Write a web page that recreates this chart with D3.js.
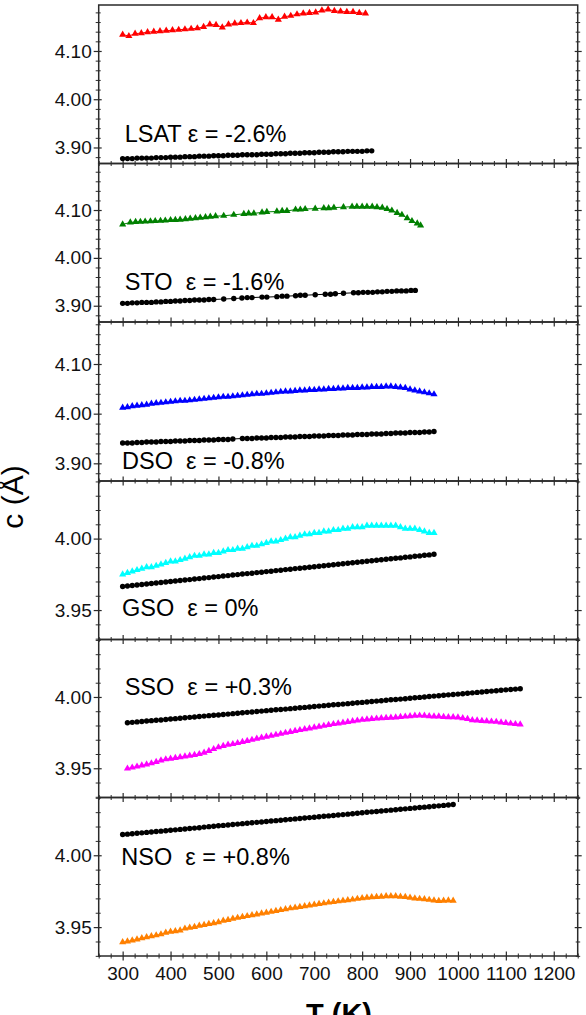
<!DOCTYPE html>
<html><head><meta charset="utf-8">
<script src="https://cdn.jsdelivr.net/npm/d3@7"></script>
<style>
html,body{margin:0;padding:0;background:#fff;}
svg{display:block;font-family:"Liberation Sans",Arial,sans-serif;}
</style></head>
<body>
<svg id="chart" width="586" height="1015"></svg>
<script>
// ---------- DATA ----------
const xTickValues = [300,400,500,600,700,800,900,1000,1100,1200];
const xTickLabels = ["300","400","500","600","700","800","900","1000","1100","1200"];
const yTicksWide = [3.90,4.00,4.10];
const yTickLabelsWide = ["3.90","4.00","4.10"];
const yTicksNarrow = [3.95,4.00];
const yTickLabelsNarrow = ["3.95","4.00"];
const panelLabels = ["LSAT \u03b5 = -2.6%","STO  \u03b5 = -1.6%","DSO  \u03b5 = -0.8%","GSO  \u03b5 = 0%","SSO  \u03b5 = +0.3%","NSO  \u03b5 = +0.8%"];
const triColors = ["#ff0000","#008000","#0000ff","#00ffff","#ff00ff","#ff8000"];

// LSAT
const T_LSAT_tri = [300,313,326,339,352,365,378,391,404,417,430,443,456,469,482,495,508,521,534,547,560,573,586,599,612,625,638,651,664,677,690,703,716,729,742,755,768,781,794,807];
const c_LSAT_tri = [4.134,4.131,4.136,4.137,4.139,4.140,4.141,4.142,4.143,4.144,4.145,4.146,4.147,4.150,4.155,4.154,4.149,4.155,4.157,4.158,4.159,4.158,4.168,4.170,4.170,4.165,4.171,4.173,4.176,4.178,4.179,4.180,4.184,4.186,4.183,4.182,4.181,4.181,4.179,4.178];
const T_LSAT_dot = [300,310,320,330,340,350,360,370,380,390,400,410,420,430,440,450,460,470,480,490,500,510,520,530,540,550,560,570,580,590,600,610,620,630,640,650,660,670,680,690,700,710,720,730,740,750,760,770,780,790,800,810,820];
const c_LSAT_dot = [3.877,3.877,3.877,3.878,3.878,3.878,3.878,3.879,3.879,3.879,3.880,3.880,3.880,3.881,3.881,3.881,3.882,3.882,3.882,3.883,3.883,3.883,3.884,3.884,3.884,3.885,3.885,3.885,3.885,3.886,3.886,3.886,3.887,3.887,3.887,3.888,3.888,3.888,3.889,3.889,3.889,3.890,3.890,3.890,3.891,3.891,3.891,3.892,3.892,3.892,3.892,3.893,3.893];

// STO
const T_STO_tri = [300,316,327,337,347,358,368,379,389,400,410,420,431,441,452,462,473,483,494,511,532,553,563,574,591,601,622,633,643,661,671,681,702,720,730,741,761,779,789,800,810,821,831,842,852,862,873,883,894,904,915,922];
const c_STO_tri = [4.070,4.074,4.075,4.0755,4.076,4.0765,4.077,4.0775,4.078,4.079,4.0795,4.080,4.081,4.082,4.083,4.084,4.085,4.086,4.087,4.088,4.090,4.092,4.093,4.093,4.095,4.096,4.097,4.098,4.098,4.101,4.101,4.102,4.103,4.104,4.104,4.105,4.106,4.107,4.107,4.107,4.107,4.107,4.106,4.105,4.102,4.099,4.094,4.090,4.083,4.077,4.072,4.068];
const T_STO_dot = [300,310,320,330,340,350,360,370,380,390,400,410,420,430,440,450,460,470,480,490,511,532,549,560,570,591,601,622,633,643,661,671,681,702,723,734,744,761,782,792,802,812,822,832,842,852,862,872,882,892,902,911];
const c_STO_dot = [3.905,3.905,3.906,3.906,3.907,3.907,3.907,3.908,3.908,3.909,3.909,3.910,3.910,3.911,3.911,3.912,3.912,3.912,3.913,3.913,3.914,3.915,3.916,3.917,3.917,3.918,3.918,3.919,3.920,3.920,3.921,3.922,3.922,3.923,3.924,3.924,3.925,3.926,3.927,3.927,3.928,3.928,3.928,3.929,3.929,3.930,3.930,3.931,3.931,3.931,3.932,3.932];

// DSO
const T_DSO_tri = [300,310,320,330,340,350,360,370,380,390,400,410,420,430,440,450,460,470,480,490,500,510,520,530,540,550,560,570,580,590,600,610,620,630,640,650,660,670,680,690,700,710,720,730,740,750,760,770,780,790,800,810,820,830,840,850,860,870,880,890,900,910,920,930,940,950];
const c_DSO_tri = [4.012,4.013,4.015,4.016,4.017,4.018,4.020,4.021,4.022,4.023,4.024,4.025,4.026,4.026,4.027,4.028,4.029,4.030,4.031,4.032,4.033,4.034,4.034,4.035,4.036,4.037,4.038,4.039,4.040,4.040,4.041,4.042,4.043,4.044,4.045,4.045,4.046,4.047,4.047,4.048,4.048,4.049,4.049,4.050,4.050,4.051,4.051,4.052,4.052,4.052,4.053,4.053,4.054,4.054,4.054,4.055,4.055,4.054,4.053,4.052,4.049,4.047,4.045,4.043,4.041,4.039];
const T_DSO_dot = [300,310,320,330,340,350,360,370,380,390,400,410,420,430,440,450,460,470,480,490,500,510,520,530,550,560,570,580,590,600,610,620,630,640,650,660,670,680,690,700,710,720,730,740,750,760,770,780,790,800,810,820,830,840,850,860,870,880,890,900,910,920,930,940,950];
const c_DSO_dot = [3.941,3.941,3.941,3.942,3.942,3.943,3.943,3.943,3.944,3.944,3.944,3.945,3.945,3.945,3.946,3.946,3.946,3.947,3.947,3.947,3.948,3.948,3.948,3.949,3.950,3.950,3.950,3.951,3.951,3.951,3.952,3.952,3.952,3.953,3.953,3.953,3.954,3.954,3.954,3.955,3.955,3.955,3.956,3.956,3.956,3.957,3.957,3.957,3.958,3.958,3.958,3.959,3.959,3.959,3.960,3.960,3.961,3.961,3.961,3.962,3.962,3.962,3.963,3.963,3.964];

// GSO
const T_GSO = [300,310,320,330,340,350,360,370,380,390,400,410,420,430,440,450,460,470,480,490,500,510,520,530,540,550,560,570,580,590,600,610,620,630,640,650,660,670,680,690,700,710,720,730,740,750,760,770,780,790,800,810,820,830,840,850,860,870,880,890,900,910,920,930,940,950];
const c_GSO_tri = [3.975,3.976,3.977,3.978,3.979,3.980,3.980,3.981,3.982,3.983,3.984,3.984,3.985,3.986,3.987,3.988,3.988,3.989,3.989,3.990,3.990,3.991,3.992,3.992,3.993,3.993,3.994,3.995,3.995,3.996,3.997,3.998,3.998,3.999,4.000,4.001,4.001,4.002,4.003,4.003,4.004,4.004,4.005,4.005,4.006,4.006,4.007,4.007,4.008,4.008,4.008,4.009,4.009,4.009,4.009,4.009,4.009,4.009,4.008,4.007,4.007,4.007,4.006,4.005,4.004,4.004];
const c_GSO_dot = [3.9665,3.9668,3.9672,3.9675,3.9679,3.9682,3.9686,3.9689,3.9693,3.9696,3.9700,3.9703,3.9707,3.9710,3.9713,3.9717,3.9720,3.9724,3.9727,3.9731,3.9734,3.9738,3.9741,3.9745,3.9748,3.9752,3.9755,3.9758,3.9762,3.9765,3.9769,3.9772,3.9776,3.9779,3.9783,3.9786,3.9790,3.9793,3.9796,3.9800,3.9803,3.9807,3.9810,3.9814,3.9817,3.9821,3.9824,3.9827,3.9831,3.9834,3.9838,3.9841,3.9845,3.9848,3.9852,3.9855,3.9859,3.9862,3.9865,3.9869,3.9872,3.9876,3.9879,3.9883,3.9886,3.9890];

// SSO
const T_SSO = [310,320,330,340,350,360,370,380,390,400,410,420,430,440,450,460,470,480,490,500,510,520,530,540,550,560,570,580,590,600,610,620,630,640,650,660,670,680,690,700,710,720,730,740,750,760,770,780,790,800,810,820,830,840,850,860,870,880,890,900,910,920,930,940,950,960,970,980,990,1000,1010,1020,1030,1040,1050,1060,1070,1080,1090,1100,1110,1120,1130];
const c_SSO_tri = [3.9498,3.9505,3.9512,3.9520,3.9527,3.9535,3.9545,3.9555,3.9563,3.9568,3.9573,3.9578,3.9583,3.9588,3.9594,3.9600,3.9610,3.9622,3.9635,3.9647,3.9657,3.9665,3.9670,3.9677,3.9685,3.9692,3.9700,3.9708,3.9715,3.9722,3.9728,3.9735,3.9742,3.9749,3.9755,3.9762,3.9768,3.9774,3.9780,3.9786,3.9792,3.9798,3.9804,3.9810,3.9815,3.9820,3.9825,3.9830,3.9835,3.9840,3.9843,3.9846,3.9849,3.9851,3.9853,3.9855,3.9857,3.9860,3.9863,3.9866,3.9869,3.9870,3.9869,3.9866,3.9864,3.9864,3.9860,3.9858,3.9858,3.9857,3.9852,3.9846,3.9838,3.9836,3.9832,3.9830,3.9828,3.9826,3.9822,3.9818,3.9814,3.9810,3.9807];
const c_SSO_dot = [3.9819,3.9822,3.9825,3.9828,3.9831,3.9834,3.9837,3.9839,3.9842,3.9845,3.9848,3.9851,3.9854,3.9857,3.9860,3.9863,3.9866,3.9869,3.9872,3.9874,3.9877,3.9880,3.9883,3.9886,3.9889,3.9892,3.9895,3.9898,3.9901,3.9904,3.9907,3.9910,3.9912,3.9915,3.9918,3.9921,3.9924,3.9927,3.9930,3.9933,3.9936,3.9939,3.9942,3.9945,3.9947,3.9950,3.9953,3.9956,3.9959,3.9962,3.9965,3.9968,3.9971,3.9974,3.9977,3.9980,3.9982,3.9985,3.9988,3.9991,3.9994,3.9997,4.0000,4.0003,4.0006,4.0009,4.0012,4.0015,4.0017,4.0020,4.0023,4.0026,4.0029,4.0032,4.0035,4.0038,4.0041,4.0044,4.0047,4.0050,4.0052,4.0055,4.0058];

// NSO
const T_NSO = [300,310,320,330,340,350,360,370,380,390,400,410,420,430,440,450,460,470,480,490,500,510,520,530,540,550,560,570,580,590,600,610,620,630,640,650,660,670,680,690,700,710,720,730,740,750,760,770,780,790,800,810,820,830,840,850,860,870,880,890,900,910,920,930,940,950,960,970,980,990];
const c_NSO_tri = [3.9395,3.9400,3.9408,3.9415,3.9423,3.9430,3.9437,3.9443,3.9450,3.9462,3.9468,3.9472,3.9477,3.9490,3.9496,3.9502,3.9510,3.9516,3.9522,3.9528,3.9535,3.9545,3.9550,3.9559,3.9565,3.9571,3.9577,3.9583,3.9589,3.9595,3.9601,3.9607,3.9613,3.9619,3.9625,3.9631,3.9636,3.9641,3.9646,3.9651,3.9656,3.9661,3.9666,3.9671,3.9675,3.9680,3.9684,3.9688,3.9692,3.9697,3.9702,3.9705,3.9708,3.9710,3.9712,3.9715,3.9716,3.9716,3.9712,3.9710,3.9705,3.9700,3.9697,3.9694,3.9690,3.9686,3.9682,3.9684,3.9686,3.9684];
const c_NSO_dot = [4.0144,4.0147,4.0150,4.0153,4.0156,4.0159,4.0162,4.0165,4.0168,4.0171,4.0174,4.0177,4.0180,4.0183,4.0186,4.0189,4.0192,4.0196,4.0199,4.0202,4.0205,4.0208,4.0211,4.0214,4.0217,4.0220,4.0223,4.0226,4.0229,4.0232,4.0235,4.0238,4.0241,4.0244,4.0247,4.0250,4.0253,4.0256,4.0259,4.0262,4.0265,4.0268,4.0271,4.0274,4.0277,4.0280,4.0283,4.0286,4.0289,4.0292,4.0296,4.0299,4.0302,4.0305,4.0308,4.0311,4.0314,4.0317,4.0320,4.0323,4.0326,4.0329,4.0332,4.0335,4.0338,4.0341,4.0344,4.0347,4.0350,4.0353];

// ---------- LAYOUT ----------
const left = 98.7, right = 577.7;
const bounds = [5, 163.5, 322, 481, 639.5, 797.5, 956];
const yDomains = [[3.8668,4.1953],[3.866,4.1972],[3.8644,4.1846],[3.9294,4.0403],[3.9295,4.0403],[3.9299,4.0402]];
const zip = (T, c) => T.map((t, i) => ({T: t, c: c[i]}));
const panels = [
  {tri: zip(T_LSAT_tri, c_LSAT_tri), dot: zip(T_LSAT_dot, c_LSAT_dot), wide: true, lab: [124.7, 141.7]},
  {tri: zip(T_STO_tri, c_STO_tri), dot: zip(T_STO_dot, c_STO_dot), wide: true, lab: [124.7, 290]},
  {tri: zip(T_DSO_tri, c_DSO_tri), dot: zip(T_DSO_dot, c_DSO_dot), wide: true, lab: [122, 469.3]},
  {tri: zip(T_GSO, c_GSO_tri), dot: zip(T_GSO, c_GSO_dot), wide: false, lab: [122, 616.3]},
  {tri: zip(T_SSO, c_SSO_tri), dot: zip(T_SSO, c_SSO_dot), wide: false, lab: [124.7, 695.3]},
  {tri: zip(T_NSO, c_NSO_tri), dot: zip(T_NSO, c_NSO_dot), wide: false, lab: [121.3, 865]}
];

const svg = d3.select("#chart");
const x = d3.scaleLinear().domain([250, 1250]).range([left, right]);
const xMinor = d3.range(250, 1251, 25).filter(v => v % 100 !== 0);
const axisColor = "#2a2a2a";

panels.forEach((p, i) => {
  const top = bounds[i], bot = bounds[i + 1];
  const y = d3.scaleLinear().domain(yDomains[i]).range([bot, top]);
  const g = svg.append("g");
  const majors = p.wide ? yTicksWide : yTicksNarrow;
  const majLabels = p.wide ? yTickLabelsWide : yTickLabelsNarrow;
  const step = p.wide ? 0.02 : 0.01;
  const d0 = yDomains[i][0], d1 = yDomains[i][1];
  const minors = d3.range(Math.ceil(d0 / step - 1e-6), Math.floor(d1 / step + 1e-6) + 1)
    .map(k => +(k * step).toFixed(3))
    .filter(v => !majors.some(m => Math.abs(m - v) < 1e-6));

  // left axis (major with labels)
  const la = g.append("g").attr("transform", `translate(${left},0)`)
    .call(d3.axisLeft(y).tickValues(majors).tickFormat((d, k) => majLabels[k]).tickSize(5).tickPadding(3));
  la.select(".domain").remove();
  la.selectAll(".tick line").attr("x1", 3).attr("stroke", axisColor).attr("stroke-width", 1.2);
  la.selectAll(".tick text").attr("font-size", 19).attr("fill", "#111")
    .attr("font-family", "'Liberation Sans',Arial,sans-serif").attr("x", -7);
  // left minor
  const lm = g.append("g").attr("transform", `translate(${left},0)`)
    .call(d3.axisLeft(y).tickValues(minors).tickFormat("").tickSize(3));
  lm.select(".domain").remove();
  lm.selectAll(".tick line").attr("x1", 2).attr("stroke", axisColor).attr("stroke-width", 1);
  // right axis
  const ra = g.append("g").attr("transform", `translate(${right},0)`)
    .call(d3.axisRight(y).tickValues(majors).tickFormat("").tickSize(4));
  ra.select(".domain").remove();
  ra.selectAll(".tick line").attr("x1", -3).attr("stroke", axisColor).attr("stroke-width", 1.2);
  const rm = g.append("g").attr("transform", `translate(${right},0)`)
    .call(d3.axisRight(y).tickValues(minors).tickFormat("").tickSize(2.5));
  rm.select(".domain").remove();
  rm.selectAll(".tick line").attr("x1", -2).attr("stroke", axisColor).attr("stroke-width", 1);

  // bottom x ticks (crossing)
  const last = i === panels.length - 1;
  const xa = g.append("g").attr("transform", `translate(0,${bot})`)
    .call(d3.axisBottom(x).tickValues(xTickValues).tickFormat((d, k) => last ? xTickLabels[k] : "").tickSize(4.5).tickPadding(6));
  xa.select(".domain").remove();
  xa.selectAll(".tick line").attr("y1", -4.5).attr("stroke", axisColor).attr("stroke-width", 1.2);
  xa.selectAll(".tick text").attr("font-size", 19).attr("fill", "#111")
    .attr("font-family", "'Liberation Sans',Arial,sans-serif");
  const xm = g.append("g").attr("transform", `translate(0,${bot})`)
    .call(d3.axisBottom(x).tickValues(xMinor).tickFormat("").tickSize(2.5));
  xm.select(".domain").remove();
  xm.selectAll(".tick line").attr("y1", -2.5).attr("stroke", axisColor).attr("stroke-width", 1);

  // frame
  g.append("rect").attr("x", left).attr("y", top).attr("width", right - left).attr("height", bot - top)
    .attr("fill", "none").attr("stroke", axisColor).attr("stroke-width", 1.5);

  // label
  g.append("text").attr("x", p.lab[0]).attr("y", p.lab[1]).attr("font-size", 23.5)
    .attr("fill", "#000").style("white-space", "pre").attr("xml:space", "preserve")
    .text(panelLabels[i]);

  const line = d3.line().x(d => x(d.T)).y(d => y(d.c));
  // dots series
  g.append("path").datum(p.dot).attr("d", line).attr("fill", "none").attr("stroke", "#000").attr("stroke-width", 1);
  g.append("g").selectAll("circle").data(p.dot).join("circle")
    .attr("cx", d => x(d.T)).attr("cy", d => y(d.c)).attr("r", 2.7).attr("fill", "#000");
  // triangle series
  const col = triColors[i];
  g.append("path").datum(p.tri).attr("d", line).attr("fill", "none").attr("stroke", col).attr("stroke-width", 1);
  const sym = d3.symbol(d3.symbolTriangle, 22);
  g.append("g").selectAll("path").data(p.tri).join("path")
    .attr("transform", d => `translate(${x(d.T)},${y(d.c)})`).attr("d", sym).attr("fill", col);
});

// axis titles
svg.append("text").attr("transform", "translate(23,497) rotate(-90)").attr("text-anchor", "middle")
  .attr("font-size", 30).attr("fill", "#000").text("c (\u00c5)");
svg.append("text").attr("x", 339).attr("y", 1024).attr("text-anchor", "middle")
  .attr("font-size", 29).attr("font-weight", "bold").attr("fill", "#000").text("T (K)");
</script>
</body></html>
